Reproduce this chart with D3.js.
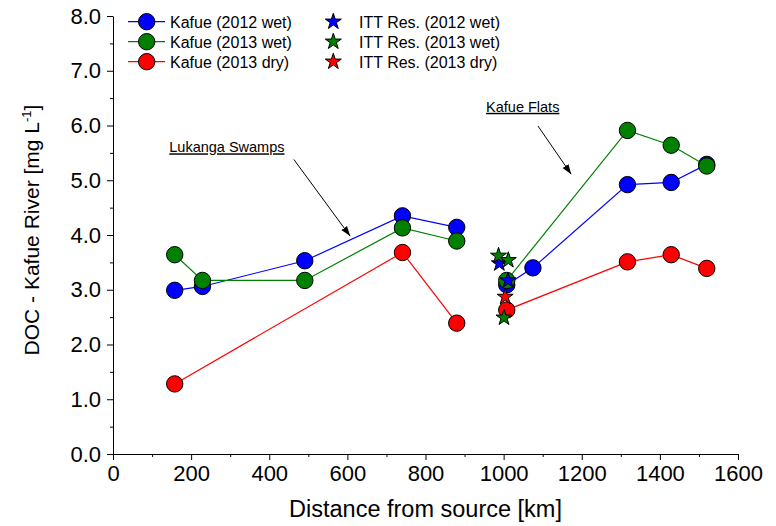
<!DOCTYPE html>
<html lang="en">
<head>
  <meta charset="UTF-8">
  <title>DOC - Kafue River</title>
  <style>
    body { margin: 0; background: #fff; }
    text { font-family: "Liberation Sans", Arial, sans-serif; fill: #000; }
    .axis path, .axis line { stroke: #000; stroke-width: 1px; }
    .axis text { font-size: 22px; }
    .legend text { font-size: 16px; }
    .note { font-size: 14.5px; text-decoration: underline; }
  </style>
</head>
<body>
  <svg width="776" height="526"></svg>

  <script src="https://d3js.org/d3.v7.min.js"></script>
  <script>
    // distance from source [km] for the river stations
    var distKafue = [158, 229, 491, 741, 880, 1008, 1075, 1317, 1429, 1520];
    // stations above / below the Itezhi-Tezhi reservoir (line is broken there)
    var reach = ["up", "up", "up", "up", "up", "down", "down", "down", "down", "down"];

    var docWet2012 = [2.99, 3.06, 3.53, 4.35, 4.14, 3.09, 3.40, 4.92, 4.96, 5.29];
    var docWet2013 = [3.64, 3.17, 3.17, 4.13, 3.89, 3.17, null, 5.91, 5.64, 5.26];
    var docDry2013 = [1.28, null, null, 3.68, 2.39, 2.63, null, 3.51, 3.64, 3.39];

    // ITT reservoir samples
    var ittWet2012Dist = [989, 1011];
    var ittWet2012 = [3.48, 3.17];
    var ittWet2013Dist = [987, 1012, 1001];
    var ittWet2013 = [3.62, 3.54, 2.49];
    var ittDry2013Dist = [1004];
    var ittDry2013 = [2.87];

    var xTicks = [0, 200, 400, 600, 800, 1000, 1200, 1400, 1600];
    var yTicks = [0, 1, 2, 3, 4, 5, 6, 7, 8];

    var series = [
      { name: "Kafue (2012 wet)", color: "#0000ff", values: docWet2012 },
      { name: "Kafue (2013 wet)", color: "#008000", values: docWet2013 },
      { name: "Kafue (2013 dry)", color: "#ff0000", values: docDry2013 }
    ];
    var itt = [
      { name: "ITT Res. (2012 wet)", color: "#0000ff", dist: ittWet2012Dist, values: ittWet2012 },
      { name: "ITT Res. (2013 wet)", color: "#008000", dist: ittWet2013Dist, values: ittWet2013 },
      { name: "ITT Res. (2013 dry)", color: "#ff0000", dist: ittDry2013Dist, values: ittDry2013 }
    ];

    var svg = d3.select("svg"),
        margin = {top: 16, right: 38, bottom: 72, left: 113},
        width = +svg.attr("width") - margin.left - margin.right,
        height = +svg.attr("height") - margin.top - margin.bottom;

    var x = d3.scaleLinear().domain([0, 1600]).range([0, width]);
    var y = d3.scaleLinear().domain([0, 8]).range([height, 0]);

    var g = svg.append("g").attr("transform", "translate(" + margin.left + "," + margin.top + ")");

    // minor ticks
    g.append("g").attr("class", "axis")
        .attr("transform", "translate(0," + height + ")")
        .call(d3.axisBottom(x).tickValues(d3.range(100, 1600, 200)).tickSize(3).tickFormat(""))
        .select(".domain").remove();
    g.append("g").attr("class", "axis")
        .call(d3.axisLeft(y).tickValues(d3.range(0.5, 8, 1)).tickSize(3).tickFormat(""))
        .select(".domain").remove();

    // major axes
    g.append("g").attr("class", "axis")
        .attr("transform", "translate(0," + height + ")")
        .call(d3.axisBottom(x).tickValues(xTicks).tickSize(6).tickSizeOuter(0).tickPadding(5)
          .tickFormat(d3.format("d")));
    g.append("g").attr("class", "axis")
        .call(d3.axisLeft(y).tickValues(yTicks).tickSize(6).tickSizeOuter(0).tickPadding(6)
          .tickFormat(d3.format(".1f")));

    // axis titles
    svg.append("text")
        .attr("x", margin.left + width / 2)
        .attr("y", 517)
        .attr("text-anchor", "middle")
        .style("font-size", "23.5px")
        .text("Distance from source [km]");

    var yTitle = svg.append("text")
        .attr("transform", "translate(39," + (margin.top + 214) + ") rotate(-90)")
        .attr("text-anchor", "middle")
        .style("font-size", "21px");
    yTitle.append("tspan").text("DOC - Kafue River [mg L");
    yTitle.append("tspan").attr("dy", -8).style("font-size", "13px").text("-1");
    yTitle.append("tspan").attr("dy", 8).text("]");

    // annotations
    svg.append("defs").append("marker")
        .attr("id", "arrow")
        .attr("viewBox", "0 0 10 10")
        .attr("refX", 10).attr("refY", 5)
        .attr("markerWidth", 10).attr("markerHeight", 10)
        .attr("markerUnits", "userSpaceOnUse")
        .attr("orient", "auto")
      .append("path")
        .attr("d", "M0,1.5 L10,5 L0,8.5 Z")
        .attr("fill", "#000");

    var notes = [
      { text: "Lukanga Swamps", tx: 144, ty: 5.51, x1: 463, y1: 5.38, x2: 607, y2: 3.98 },
      { text: "Kafue Flats", tx: 955, ty: 6.25, x1: 1088, y1: 5.99, x2: 1173, y2: 5.11 }
    ];
    notes.forEach(function(n) {
      g.append("text").attr("class", "note")
          .attr("x", x(n.tx)).attr("y", y(n.ty))
          .text(n.text);
      g.append("line")
          .attr("x1", x(n.x1)).attr("y1", y(n.y1))
          .attr("x2", x(n.x2)).attr("y2", y(n.y2))
          .attr("stroke", "#000").attr("stroke-width", 1)
          .attr("marker-end", "url(#arrow)");
    });

    var line = d3.line()
        .defined(function(d) { return d.v != null; })
        .x(function(d) { return x(d.d); })
        .y(function(d) { return y(d.v); });

    var star = d3.symbol().type(d3.symbolStar).size(80);

    // river series: line + circles, plotted one after the other
    series.forEach(function(s) {
      var pts = distKafue.map(function(d, i) { return {d: d, v: s.values[i], r: reach[i]}; })
          .filter(function(p) { return p.v != null; });
      ["up", "down"].forEach(function(r) {
        g.append("path")
            .datum(pts.filter(function(p) { return p.r === r; }))
            .attr("fill", "none")
            .attr("stroke", s.color)
            .attr("stroke-width", 1.2)
            .attr("d", line);
      });
      g.append("g").selectAll("circle")
          .data(pts)
          .enter().append("circle")
          .attr("cx", function(p) { return x(p.d); })
          .attr("cy", function(p) { return y(p.v); })
          .attr("r", 8.2)
          .attr("fill", s.color)
          .attr("stroke", "#000")
          .attr("stroke-width", 1);
    });

    // reservoir stars
    itt.forEach(function(s) {
      g.append("g").selectAll("path")
          .data(s.dist.map(function(d, i) { return {d: d, v: s.values[i]}; }))
          .enter().append("path")
          .attr("d", star)
          .attr("transform", function(p) { return "translate(" + x(p.d) + "," + y(p.v) + ")"; })
          .attr("fill", s.color)
          .attr("stroke", "#000")
          .attr("stroke-width", 1);
    });

    // legend
    var legend = svg.append("g").attr("class", "legend");
    series.forEach(function(s, i) {
      var ly = 21.7 + i * 20;
      legend.append("line")
          .attr("x1", 128).attr("x2", 165).attr("y1", ly).attr("y2", ly)
          .attr("stroke", s.color).attr("stroke-width", 1.2);
      legend.append("circle")
          .attr("cx", 146.7).attr("cy", ly).attr("r", 8.2)
          .attr("fill", s.color).attr("stroke", "#000");
      legend.append("text")
          .attr("x", 170).attr("y", ly + 6)
          .text(s.name);
    });
    itt.forEach(function(s, i) {
      var ly = 21.7 + i * 20;
      legend.append("path")
          .attr("d", star)
          .attr("transform", "translate(333.3," + ly + ")")
          .attr("fill", s.color).attr("stroke", "#000");
      legend.append("text")
          .attr("x", 359).attr("y", ly + 6)
          .text(s.name);
    });
  </script>
</body>
</html>
